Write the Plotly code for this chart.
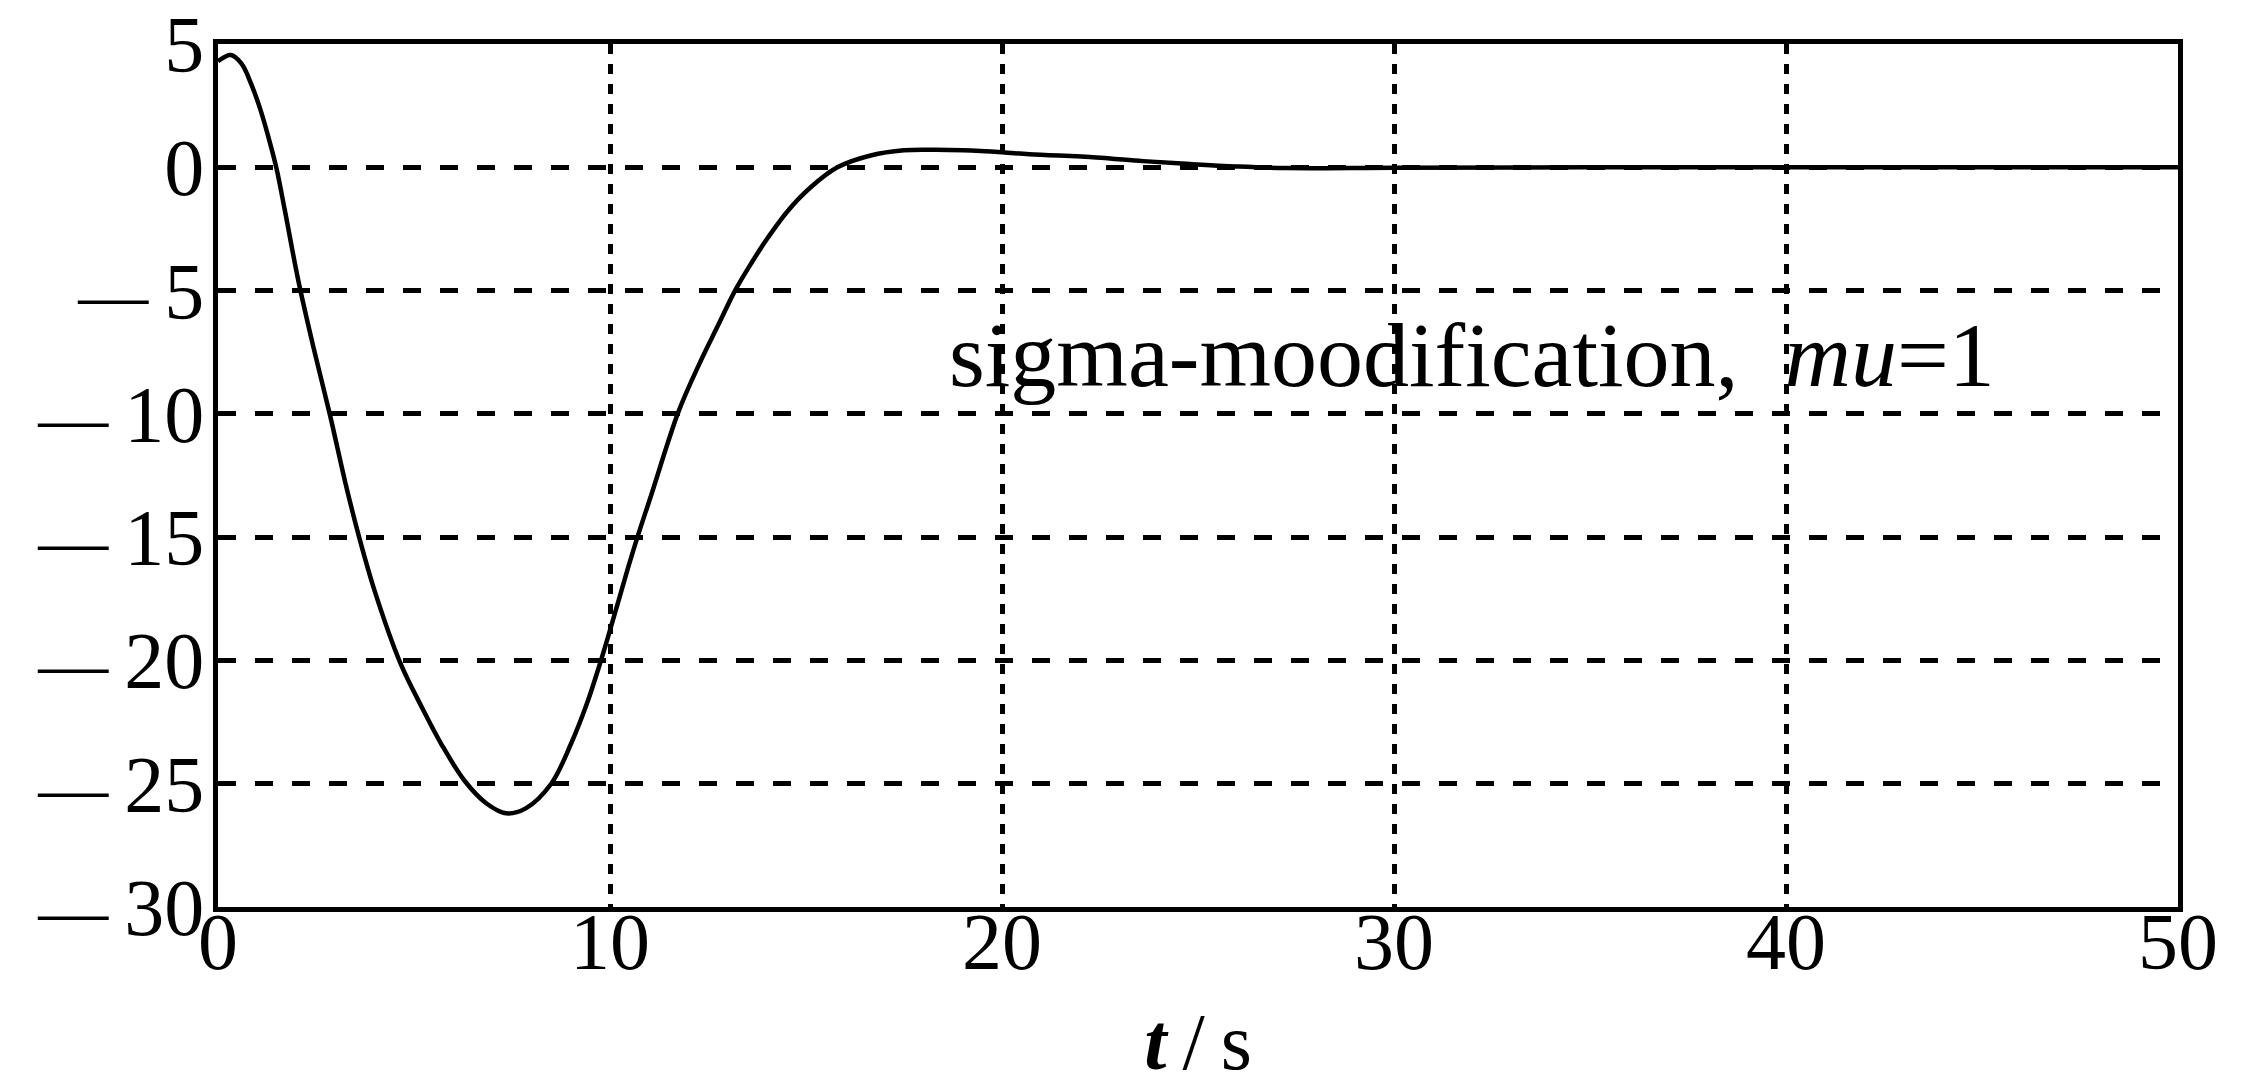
import plotly.graph_objects as go

# Data
t_vals = [0, 0.33, 0.6, 0.84, 1.09, 1.35, 1.5, 1.7, 2.05, 2.45, 2.85, 3.25, 3.6, 4.0,
          4.65, 5.2, 5.7, 6.3, 6.85, 7.35, 7.85, 8.5, 9.0, 9.4, 9.75, 10.05, 10.45,
          10.7, 11.05, 11.75, 12.3, 12.76, 13.19, 13.6, 14.03, 14.54, 15.12, 15.8,
          16.65, 17.5, 18.3, 19.0, 20.0, 20.7, 22.4, 23.6, 24.8, 26.0, 27.2, 30, 35,
          40, 45, 50]
e_vals = [4.3, 4.55, 4.2, 3.4, 2.3, 0.85, -0.1, -1.7, -4.6, -7.4, -10.0, -12.8, -15.0,
          -17.2, -20.1, -21.9, -23.4, -24.9, -25.8, -26.2, -26.0, -25.0, -23.4, -21.8,
          -20.1, -18.5, -16.3, -15.0, -13.3, -9.9, -7.9, -6.4, -5.0, -3.9, -2.85,
          -1.76, -0.81, 0.0, 0.48, 0.69, 0.71, 0.69, 0.61, 0.53, 0.4, 0.25, 0.13, 0.03,
          -0.03, -0.02, 0.0, 0.0, 0.0, 0.0]

x_ticks = [0, 10, 20, 30, 40, 50]
x_ticktext = ["0", "10", "20", "30", "40", "50"]
y_ticks = [5, 0, -5, -10, -15, -20, -25, -30]
y_tick_numbers = ["5", "0", "5", "10", "15", "20", "25", "30"]
y_tick_negative = [False, False, True, True, True, True, True, True]

annotation_text = "sigma-moodification,\u2002<i>mu</i>=1"
x_title = "<b><i>t</i></b>\u2009/\u2009s"

FONT = "Liberation Serif, Times New Roman, serif"
MINUS = "<span style='font-size:70px'>\u2014</span>\u2009"
y_ticktext = [(MINUS if neg else "") + num for num, neg in zip(y_tick_numbers, y_tick_negative)]

fig = go.Figure()
fig.add_trace(go.Scatter(
    x=t_vals, y=e_vals, mode="lines",
    line=dict(color="black", width=4.5, shape="spline", smoothing=1.0),
    showlegend=False, hoverinfo="skip",
))

fig.add_annotation(
    x=32.0, y=-7.6, xref="x", yref="y", text=annotation_text,
    showarrow=False, xanchor="center", yanchor="middle",
    font=dict(family=FONT, size=92, color="black"),
)

fig.update_layout(
    width=2265, height=1086,
    margin=dict(l=218, r=87, t=44, b=179, autoexpand=False),
    paper_bgcolor="white", plot_bgcolor="white",
    font=dict(family=FONT, size=80, color="black"),
)

axis_common = dict(
    showline=True, linecolor="black", linewidth=4.5, mirror=True,
    showgrid=True, gridcolor="black",
    zeroline=False, ticks="", tickfont=dict(family=FONT, size=80, color="black"),
    automargin=False,
)

fig.update_xaxes(
    range=[0, 50], tickmode="array", tickvals=x_ticks, ticktext=x_ticktext,
    gridwidth=5, griddash="10px,10px",
    title=dict(text=x_title, font=dict(family=FONT, size=80, color="black"), standoff=45),
    ticklabelstandoff=-39,
    **axis_common,
)
fig.update_yaxes(
    range=[-30, 5], tickmode="array", tickvals=y_ticks, ticktext=y_ticktext,
    gridwidth=4.5, griddash="18px,19px",
    ticklabelstandoff=-7,
    **axis_common,
)

fig.write_html("out.html")
